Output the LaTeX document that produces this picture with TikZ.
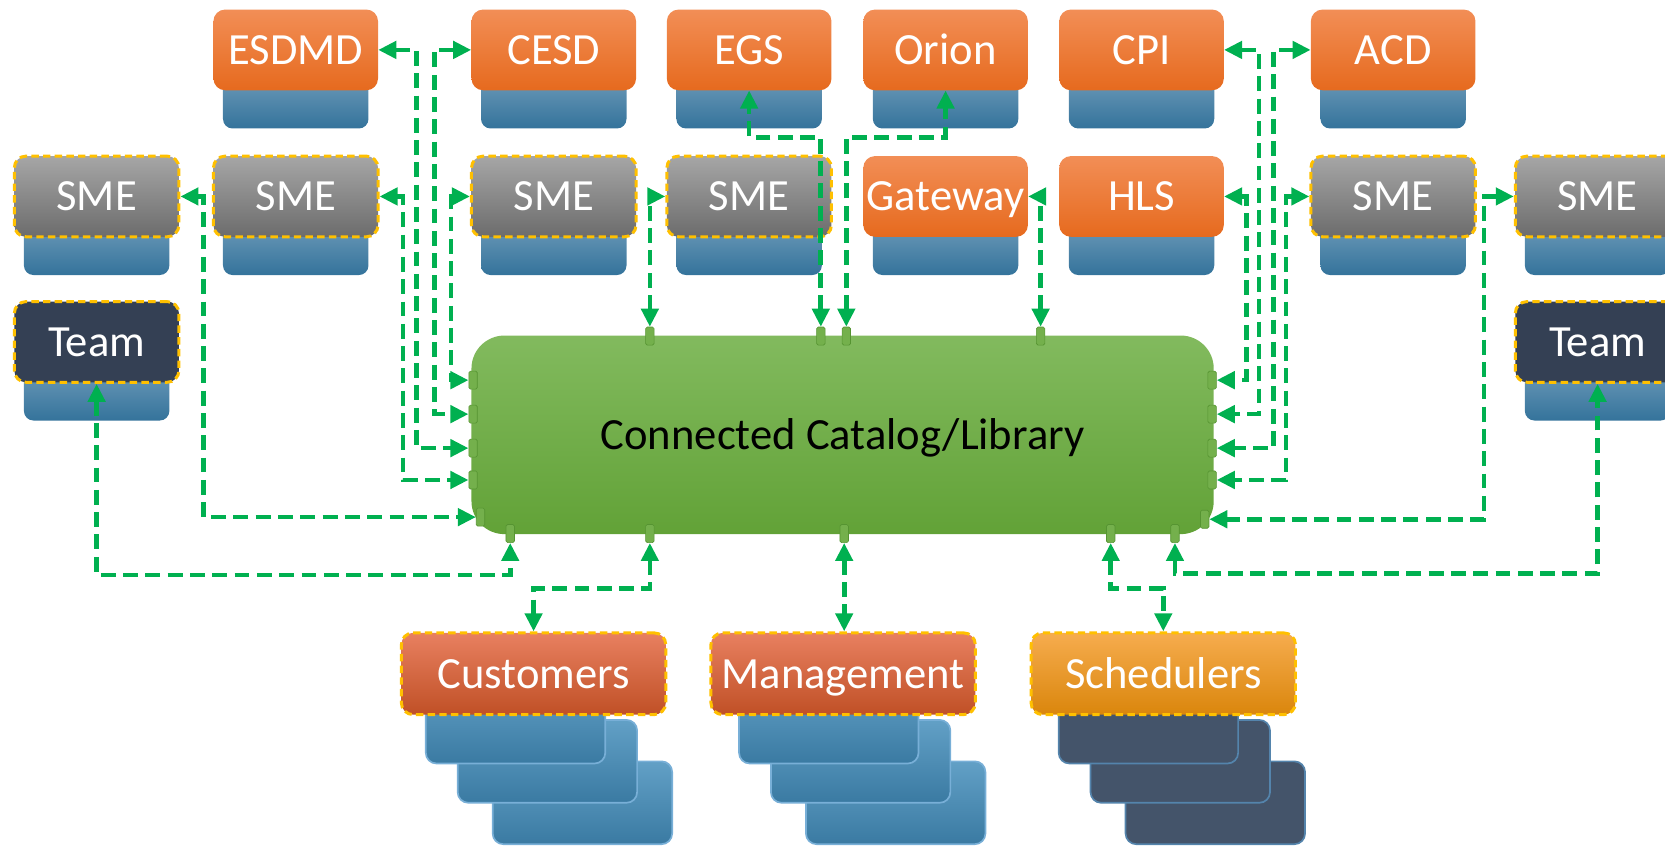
\documentclass[tikz,border=0pt]{standalone}
\usepackage{fontspec}
\setmainfont{Carlito}
\usetikzlibrary{arrows.meta,calc}
\definecolor{orT}{RGB}{242,142,86}
\definecolor{orB}{RGB}{230,106,30}
\definecolor{grT}{RGB}{166,166,166}
\definecolor{grB}{RGB}{108,108,108}
\definecolor{teamC}{RGB}{52,64,84}
\definecolor{stT}{RGB}{112,156,186}
\definecolor{stB}{RGB}{52,115,155}
\definecolor{cdT}{RGB}{98,160,198}
\definecolor{cdB}{RGB}{58,122,162}
\definecolor{cdE}{RGB}{120,175,215}
\definecolor{dkC}{RGB}{68,84,106}
\definecolor{dkE}{RGB}{84,132,172}
\definecolor{cuT}{RGB}{232,128,96}
\definecolor{cuB}{RGB}{192,80,38}
\definecolor{scT}{RGB}{246,172,78}
\definecolor{scB}{RGB}{218,134,12}
\definecolor{gnT}{RGB}{130,186,94}
\definecolor{gnB}{RGB}{98,162,55}
\definecolor{mkC}{RGB}{116,176,76}
\definecolor{mkE}{RGB}{86,148,50}
\definecolor{lnC}{RGB}{0,176,80}
\definecolor{ylw}{RGB}{255,192,0}
\newcommand\mkbox[5]{%
  \shade[top color=stT,bottom color=stB,rounded corners=9pt] (#2-68.5,#3+60) rectangle (#2+68.5,#3+112);
  \node[#4] (#1) at (#2,#3+38) {#5};
}
\newcommand\cardstack[2]{%
  \draw[#2] (#1+63,717) rectangle ++(169,78);
  \draw[#2] (#1+30,678) rectangle ++(169,78);
  \draw[#2] (#1,641) rectangle ++(169,78);
}
\begin{document}
\begin{tikzpicture}[x=1pt,y=-1pt,
  lbl/.style={inner sep=0pt,font=\fontsize{42}{48}\selectfont,text height=27pt,text depth=0pt},
  basebox/.style={lbl,rectangle,rounded corners=11pt,minimum width=155pt,minimum height=76pt,text=white},
  orng/.style={basebox,top color=orT,bottom color=orB},
  ydash/.style={draw=ylw,line width=2.8pt,dash pattern=on 7pt off 4pt},
  smebox/.style={basebox,top color=grT,bottom color=grB,ydash},
  teambox/.style={basebox,fill=teamC,ydash},
  custbox/.style={lbl,rectangle,rounded corners=11pt,minimum width=249pt,minimum height=77pt,text=white,top color=cuT,bottom color=cuB,ydash},
  schedbox/.style={custbox,top color=scT,bottom color=scB},
  bluecard/.style={rounded corners=10pt,top color=cdT,bottom color=cdB,draw=cdE,line width=1.6pt},
  darkcard/.style={rounded corners=10pt,fill=dkC,draw=dkE,line width=1.6pt},
  port/.style={rectangle,inner sep=0pt,minimum width=8pt,minimum height=17pt,rounded corners=1.5pt,fill=mkC,draw=mkE,line width=0.6pt},
  conn/.style={draw=lnC,line width=4.4pt,dash pattern=on 14pt off 7pt,{Triangle[length=17pt,width=16pt]}-{Triangle[length=17pt,width=16pt]}},
]
\useasboundingbox (0,0) rectangle (1568,798);
\clip (0,0) rectangle (1568,798);
% top row
\mkbox{esdmd}{278.5}{9}{orng}{ESDMD}
\mkbox{cesd}{521.5}{9}{orng}{CESD}
\mkbox{egs}{705.5}{9}{orng}{EGS}
\mkbox{orion}{890.5}{9}{orng}{Orion}
\mkbox{cpi}{1075}{9}{orng}{CPI}
\mkbox{acd}{1312}{9}{orng}{ACD}
% second row
\mkbox{sme1}{91}{147}{smebox}{SME}
\mkbox{sme2}{278.5}{147}{smebox}{SME}
\mkbox{sme3}{521.5}{147}{smebox}{SME}
\mkbox{sme4}{705.5}{147}{smebox}{SME}
\mkbox{gateway}{890.5}{147}{orng}{Gateway}
\mkbox{hls}{1075}{147}{orng}{HLS}
\mkbox{sme7}{1312}{147}{smebox}{SME}
\mkbox{sme8}{1504.5}{147}{smebox}{SME}
% teams
\mkbox{team1}{91}{284}{teambox}{Team}
\mkbox{team8}{1504.5}{284}{teambox}{Team}
% bottom groups
\cardstack{401}{bluecard}
\node[custbox] (cust) at (502.5,634.5) {Customers};
\cardstack{696}{bluecard}
\node[custbox] (mgmt) at (794,634.5) {Management};
\cardstack{997}{darkcard}
\node[schedbox] (sched) at (1095.5,634.5) {Schedulers};
% central catalog
\node[lbl,rectangle,rounded corners=31pt,minimum width=699pt,minimum height=187pt,top color=gnT,bottom color=gnB,text=black] (cat) at (793.5,409.5) {Connected Catalog/Library};
% ports
\node[port] (ml1) at (445.5,358) {};
\node[port] (ml2) at (445.5,390) {};
\node[port] (ml3) at (445.5,422) {};
\node[port] (ml4) at (445.5,452) {};
\node[port] (ml5) at (452.5,487) {};
\node[port] (mr1) at (1141.5,358) {};
\node[port] (mr2) at (1141.5,390) {};
\node[port] (mr3) at (1141.5,422) {};
\node[port] (mr4) at (1141.5,452) {};
\node[port] (mr5) at (1134.5,489) {};
\node[port] (mt1) at (612,316.5) {};
\node[port] (mt2) at (773,316.5) {};
\node[port] (mt3) at (797,316.5) {};
\node[port] (mt4) at (980,316.5) {};
\node[port] (mb1) at (480.5,502.5) {};
\node[port] (mb2) at (612,502.5) {};
\node[port] (mb3) at (795,502.5) {};
\node[port] (mb4) at (1046,502.5) {};
\node[port] (mb5) at (1106.5,502.5) {};
% connectors left
\draw[conn] (sme1.east) -- ++(22,0) |- (ml5.west);
\draw[conn] (sme2.east) -- ++(22,0) |- (ml4.west);
\draw[conn] (esdmd.east) -- ++(36,0) |- (ml3.west);
\draw[conn] (cesd.west) -- ++(-34.5,0) |- (ml2.west);
\draw[conn] (sme3.west) -- ++(-18,0) |- (ml1.west);
\draw[conn] (team1.south) -- ++(0,180) -| (mb1.south);
% bottom
\draw[conn] (mb2.south) -- ++(0,43) -| (cust.north);
\draw[conn] (mb3.south) -- (mb3.south |- mgmt.north);
\draw[conn] (mb4.south) -- ++(0,43) -| (sched.north);
\draw[conn] (mb5.south) -- ++(0,29) -| (team8.south);
% top
\draw[conn] (mt1.north) |- (sme4.west);
\draw[conn] (mt2.north) -- ++(0,-178.5) -| (egs.south);
\draw[conn] (mt3.north) -- ++(0,-178.5) -| (orion.south);
\draw[conn] (mt4.north) |- (gateway.east);
% right
\draw[conn] (hls.east) -- ++(21,0) |- (mr1.east);
\draw[conn] (cpi.east) -- ++(33,0) |- (mr2.east);
\draw[conn] (acd.west) -- ++(-35,0) |- (mr3.east);
\draw[conn] (sme7.west) -- ++(-22,0) |- (mr4.east);
\draw[conn] (sme8.west) -- ++(-28,0) |- (mr5.east);
\end{tikzpicture}
\end{document}
